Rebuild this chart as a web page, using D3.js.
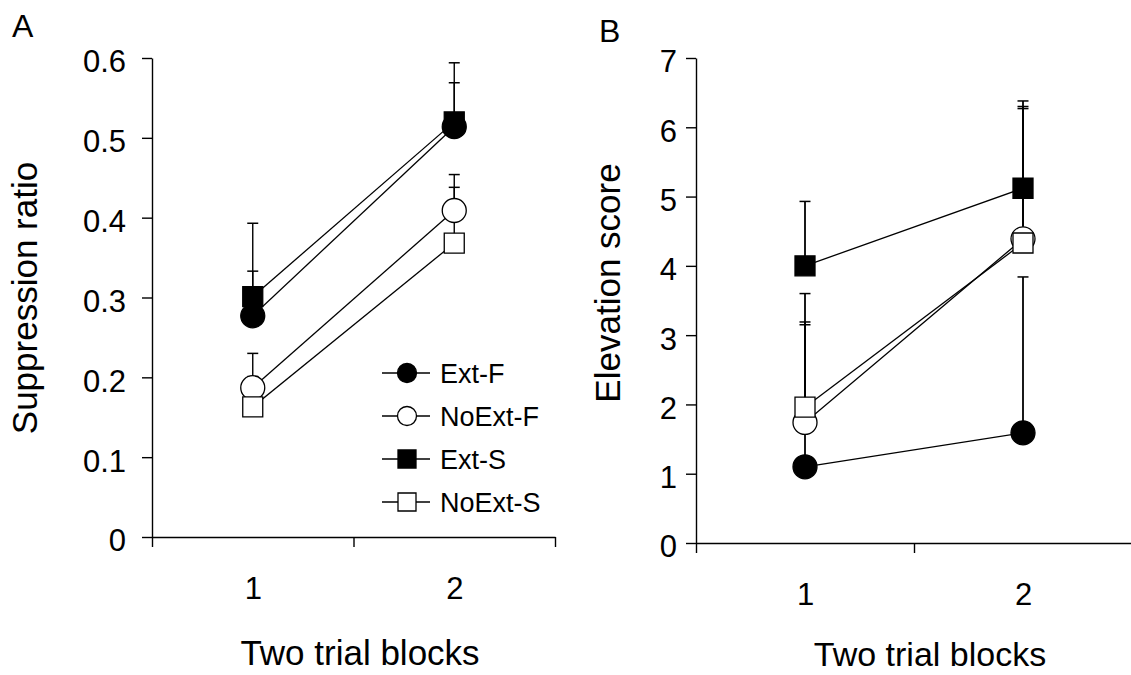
<!DOCTYPE html>
<html>
<head>
<meta charset="utf-8">
<script src="https://cdn.jsdelivr.net/npm/d3@7"></script>
<style>
  body { margin: 0; background: #fff; }
  svg { display: block; }
  text { font-family: "Liberation Sans", Arial, sans-serif; fill: #000; }
</style>
</head>
<body>
<svg id="chart" width="1131" height="675"></svg>
<script>
/*--- Data ---*/
const blocks = [1, 2];
const groups = ["Ext-F", "NoExt-F", "Ext-S", "NoExt-S"];
const blockLabels = ["1", "2"];

// panel A: suppression ratio, mean and upward error
const ratioExtF = [0.277, 0.514];
const ratioNoExtF = [0.187, 0.409];
const ratioExtS = [0.301, 0.520];
const ratioNoExtS = [0.163, 0.368];
const ratioErrExtF = [0.056, 0.055];
const ratioErrNoExtF = [0.043, 0.045];
const ratioErrExtS = [0.092, 0.074];
const ratioErrNoExtS = [0.038, 0.070];
const ratioTicks = [0, 0.1, 0.2, 0.3, 0.4, 0.5, 0.6];

// panel B: elevation score
const elevExtF = [1.10, 1.59];
const elevNoExtF = [1.74, 4.39];
const elevExtS = [4.00, 5.12];
const elevNoExtS = [1.96, 4.33];
const elevErrExtF = [2.05, 2.25];
const elevErrNoExtF = [1.45, 1.91];
const elevErrExtS = [0.93, 1.26];
const elevErrNoExtS = [1.64, 1.94];
const elevTicks = [0, 1, 2, 3, 4, 5, 6, 7];

// marker style per group: shape, filled
const shapes = { "Ext-F": "circle", "NoExt-F": "circle", "Ext-S": "square", "NoExt-S": "square" };
const filled = { "Ext-F": true, "NoExt-F": false, "Ext-S": true, "NoExt-S": false };

const svg = d3.select("#chart");

function seriesOf(means, errs) {
    return groups.map((g, k) => ({
        name: g,
        pts: blocks.map((b, i) => ({ b: b, v: means[k][i], e: errs[k][i] }))
    }));
}

function markerPath(name, big) {
    const isCircle = shapes[name] === "circle";
    let size;
    if (isCircle) size = Math.PI * Math.pow(big ? 12 : 9.5, 2);
    else size = Math.pow(big ? 20 : 18, 2);
    return d3.symbol().type(isCircle ? d3.symbolCircle : d3.symbolSquare).size(size)();
}

function drawPanel(opt) {
    const x = d3.scaleLinear().domain([0.5, 2.5]).range(opt.xRange);
    const y = d3.scaleLinear().domain(opt.yDomain).range(opt.yRange);
    const g = svg.append("g");

    // y axis
    const yAxis = g.append("g")
        .attr("transform", `translate(${opt.xRange[0]},0)`)
        .call(d3.axisLeft(y).tickValues(opt.yTicks).tickSize(10).tickSizeOuter(0)
            .tickPadding(opt.yPad).tickFormat(d => String(+d.toFixed(1))));
    yAxis.selectAll("path, line").attr("stroke", "#000").attr("stroke-width", 1.4);
    yAxis.selectAll("text").attr("font-size", 31).attr("dy", "0.45em")
        .attr("font-family", "Liberation Sans, Arial, sans-serif");

    // x axis, ticks between blocks
    const xAxis = g.append("g")
        .attr("transform", `translate(0,${opt.yRange[0]})`)
        .call(d3.axisBottom(x).tickValues([0.5, 1.5, 2.5]).tickSize(10).tickSizeOuter(0).tickFormat(""));
    xAxis.selectAll("path, line").attr("stroke", "#000").attr("stroke-width", 1.4);

    // block labels
    const xLab = g.append("g")
        .attr("transform", `translate(0,${opt.yRange[0]})`)
        .call(d3.axisBottom(x).tickValues(blocks).tickSize(0).tickPadding(opt.xPad)
            .tickFormat((d, i) => blockLabels[i]));
    xLab.select(".domain").remove();
    xLab.selectAll("text").attr("font-size", 31)
        .attr("font-family", "Liberation Sans, Arial, sans-serif");

    const series = seriesOf(opt.means, opt.errs);
    const line = d3.line().x(d => x(d.b)).y(d => y(d.v));

    g.selectAll("path.series").data(series).join("path")
        .attr("class", "series")
        .attr("d", d => line(d.pts))
        .attr("fill", "none").attr("stroke", "#000").attr("stroke-width", 1.3);

    // upward error bars
    const bars = series.flatMap(s => s.pts);
    g.selectAll("line.err").data(bars).join("line")
        .attr("class", "err")
        .attr("x1", d => x(d.b)).attr("x2", d => x(d.b))
        .attr("y1", d => y(d.v)).attr("y2", d => y(d.v + d.e))
        .attr("stroke", "#000").attr("stroke-width", opt.errWidth);
    g.selectAll("line.cap").data(bars).join("line")
        .attr("class", "cap")
        .attr("x1", d => x(d.b) - 5.5).attr("x2", d => x(d.b) + 5.5)
        .attr("y1", d => y(d.v + d.e)).attr("y2", d => y(d.v + d.e))
        .attr("stroke", "#000").attr("stroke-width", 1.5);

    series.forEach(s => {
        g.selectAll(null).data(s.pts).join("path")
            .attr("transform", d => `translate(${x(d.b)},${y(d.v)})`)
            .attr("d", markerPath(s.name, true))
            .attr("fill", filled[s.name] ? "#000" : "#fff")
            .attr("stroke", "#000").attr("stroke-width", 1.3);
    });

    // titles
    g.append("text").attr("x", opt.panelPos[0]).attr("y", opt.panelPos[1])
        .attr("font-size", 32).text(opt.panel);
    g.append("text").attr("x", opt.xTitlePos[0]).attr("y", opt.xTitlePos[1])
        .attr("text-anchor", "middle").attr("font-size", opt.xTitleSize).text("Two trial blocks");
    g.append("text")
        .attr("transform", `translate(${opt.yTitlePos[0]},${opt.yTitlePos[1]}) rotate(-90)`)
        .attr("text-anchor", "middle").attr("font-size", 35).text(opt.yTitle);

    return { x: x, y: y, g: g };
}

drawPanel({
    panel: "A",
    panelPos: [12, 37],
    xRange: [152, 555],
    yRange: [537, 58],
    yDomain: [0, 0.6],
    yTicks: ratioTicks,
    yPad: 16,
    xPad: 40,
    errWidth: 1.4,
    means: [ratioExtF, ratioNoExtF, ratioExtS, ratioNoExtS],
    errs: [ratioErrExtF, ratioErrNoExtF, ratioErrExtS, ratioErrNoExtS],
    yTitle: "Suppression ratio",
    yTitlePos: [37, 298],
    xTitlePos: [360, 665],
    xTitleSize: 35
});

drawPanel({
    panel: "B",
    panelPos: [599, 42],
    xRange: [696, 1132],
    yRange: [543, 58],
    yDomain: [0, 7],
    yTicks: elevTicks,
    yPad: 9,
    xPad: 40,
    errWidth: 1.8,
    means: [elevExtF, elevNoExtF, elevExtS, elevNoExtS],
    errs: [elevErrExtF, elevErrNoExtF, elevErrExtS, elevErrNoExtS],
    yTitle: "Elevation score",
    yTitlePos: [620, 283],
    xTitlePos: [930, 666],
    xTitleSize: 34
});

// legend in panel A
const legendY = d3.scalePoint().domain(groups).range([373, 502]);
const legend = svg.append("g");
groups.forEach(name => {
    const row = legend.append("g").attr("transform", `translate(0,${legendY(name)})`);
    row.append("line").attr("x1", 382).attr("x2", 430).attr("y1", 0).attr("y2", 0)
        .attr("stroke", "#000").attr("stroke-width", 1.3);
    row.append("path").attr("transform", "translate(407,0)")
        .attr("d", markerPath(name, false))
        .attr("fill", filled[name] ? "#000" : "#fff")
        .attr("stroke", "#000").attr("stroke-width", 1.3);
    row.append("text").attr("x", 440).attr("y", 0).attr("dy", "0.36em")
        .attr("font-size", 27).text(name);
});
</script>
</body>
</html>
